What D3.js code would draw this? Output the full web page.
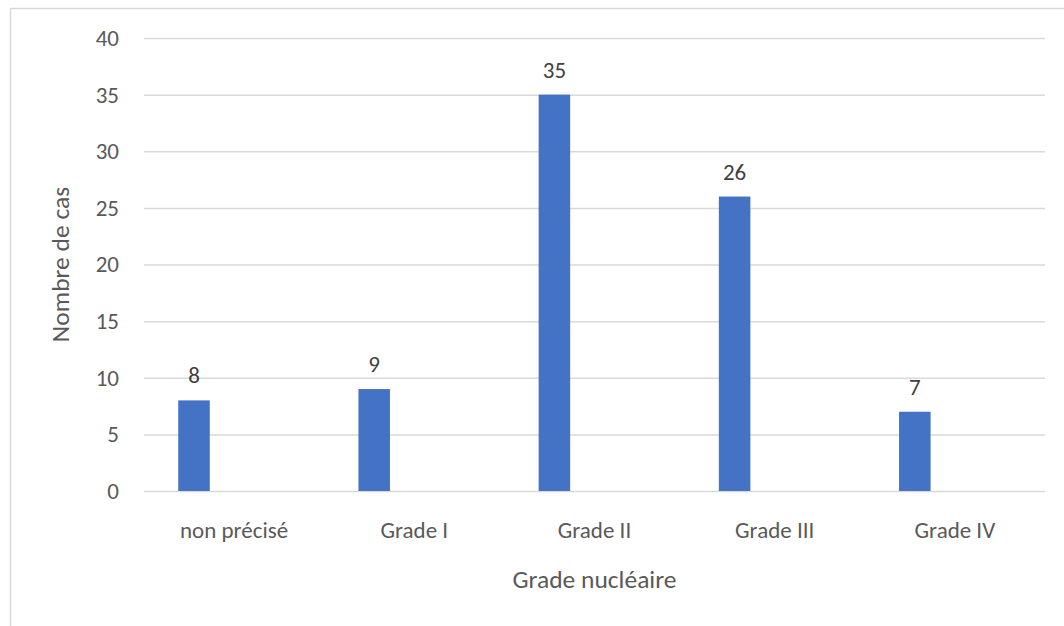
<!DOCTYPE html>
<html>
<head>
<meta charset="utf-8">
<script src="https://cdn.jsdelivr.net/npm/d3@7"></script>
<style>
  body { margin: 0; background: #fff; }
  text { font-family: Carlito, Calibri, Lato, sans-serif; }
</style>
</head>
<body>
<div id="chart1"></div>
<script>
var categories = ["non précisé", "Grade I", "Grade II", "Grade III", "Grade IV"];
var cases = [8, 9, 35, 26, 7];
var yTicks = [0, 5, 10, 15, 20, 25, 30, 35, 40];

function BarChart() {
  var w = 1064;
  var h = 626;
  var margin = {top: 38, right: 19, bottom: 135, left: 144};
  var plotW = w - margin.left - margin.right;
  var plotH = h - margin.top - margin.bottom;
  var fs = 23;

  var dataset = categories.map((c, i) => {
    return { cat: c, value: cases[i] };
  });

  var svg = d3.select("#chart1")
    .append("svg")
    .attr("width", w)
    .attr("height", h);

  // chart area border
  svg.append("rect")
    .attr("x", 10.5)
    .attr("y", 8.5)
    .attr("width", w + 50)
    .attr("height", h + 50)
    .attr("fill", "none")
    .attr("stroke", "#d9d9d9")
    .attr("stroke-width", 1.5);

  var g = svg.append("g")
    .attr("transform", "translate(" + margin.left + "," + margin.top + ")");

  var xScale = d3.scaleBand()
    .domain(categories)
    .range([0, plotW])
    .padding(0);

  var yScale = d3.scaleLinear()
    .domain([0, 40])
    .range([plotH, 0]);

  //Create yAxis with gridlines
  var yAxis = d3.axisLeft(yScale)
    .tickValues(yTicks)
    .tickSizeInner(-plotW)
    .tickSizeOuter(0)
    .tickPadding(25);

  var gy = g.append("g")
    .attr("id", "y-axis")
    .call(yAxis);
  gy.select(".domain").remove();
  gy.selectAll(".tick line")
    .attr("stroke", "#d9d9d9")
    .attr("stroke-width", 1.5);
  gy.selectAll(".tick text")
    .attr("fill", "#595959")
    .style("font-size", fs + "px");

  //Create xAxis
  var xAxis = d3.axisBottom(xScale)
    .tickSize(0)
    .tickPadding(31);

  var gx = g.append("g")
    .attr("id", "x-axis")
    .attr("transform", "translate(0," + plotH + ")")
    .call(xAxis);
  gx.select(".domain").remove();
  gx.selectAll(".tick text")
    .attr("fill", "#595959")
    .style("font-size", fs + "px");

  //Draw bars (offset to the left inside each category)
  var barOff = xScale.bandwidth() * 0.19;
  var barW = xScale.bandwidth() * 0.175;

  g.selectAll("rect.bar")
    .data(dataset)
    .enter()
    .append("rect")
    .attr("class", "bar")
    .attr("x", (d) => xScale(d.cat) + barOff)
    .attr("y", (d) => yScale(d.value))
    .attr("width", barW)
    .attr("height", (d) => plotH - yScale(d.value))
    .attr("fill", "#4472c4");

  //Data labels
  g.selectAll("text.label")
    .data(dataset)
    .enter()
    .append("text")
    .attr("class", "label")
    .attr("x", (d) => xScale(d.cat) + barOff + barW / 2)
    .attr("y", (d) => yScale(d.value) - 17)
    .attr("text-anchor", "middle")
    .attr("fill", "#404040")
    .style("font-size", fs + "px")
    .text((d) => d.value);

  //Axis titles
  svg.append("text")
    .attr("text-anchor", "middle")
    .attr("transform", "translate(69," + (margin.top + plotH / 2) + ") rotate(-90)")
    .attr("fill", "#595959")
    .style("font-size", "25.5px")
    .text("Nombre de cas");

  svg.append("text")
    .attr("text-anchor", "middle")
    .attr("x", margin.left + plotW / 2)
    .attr("y", 588)
    .attr("fill", "#595959")
    .style("font-size", "25.5px")
    .text("Grade nucléaire");
}

window.onload = function () {
  BarChart();
};
</script>
</body>
</html>
